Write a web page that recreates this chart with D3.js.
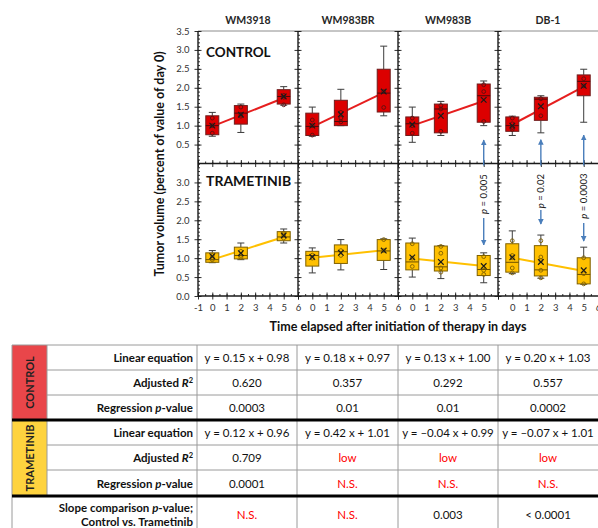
<!DOCTYPE html>
<html>
<head>
<meta charset="utf-8">
<script src="https://cdn.jsdelivr.net/npm/d3@7"></script>
<style>
  html, body { margin: 0; padding: 0; background: #fff; }
  svg { display: block; font-family: Lato, "Open Sans", sans-serif; }
</style>
</head>
<body>
<svg id="chart" width="598" height="528"></svg>
<script>
// ---------- data ----------
const cellLines = ["WM3918", "WM983BR", "WM983B", "DB-1"];
const days = [0, 2, 5];

// box statistics per day: [whisker low, Q1, median, Q3, whisker high, mean]
const controlBoxes = [
  [[0.72, 0.76, 1.00, 1.26, 1.35, 1.00], [0.82, 1.04, 1.33, 1.53, 1.57, 1.29], [1.54, 1.57, 1.77, 1.95, 2.03, 1.77]],
  [[0.72, 0.74, 0.98, 1.33, 1.49, 1.00], [1.00, 1.00, 1.11, 1.67, 1.96, 1.30], [1.26, 1.36, 1.86, 2.49, 3.10, 1.90]],
  [[0.56, 0.74, 1.05, 1.23, 1.49, 1.03], [0.74, 0.81, 1.44, 1.57, 1.64, 1.26], [1.00, 1.09, 1.79, 2.10, 2.18, 1.68]],
  [[0.74, 0.85, 1.00, 1.23, 1.25, 1.00], [0.81, 1.14, 1.70, 1.75, 1.79, 1.51], [1.09, 1.79, 2.17, 2.34, 2.49, 2.05]]
];
const trametinibBoxes = [
  [[0.88, 0.89, 0.96, 1.14, 1.20, 1.05], [0.96, 0.98, 1.07, 1.29, 1.40, 1.13], [1.40, 1.46, 1.56, 1.70, 1.77, 1.60]],
  [[0.61, 0.79, 1.07, 1.18, 1.27, 1.03], [0.69, 0.86, 1.17, 1.35, 1.49, 1.14], [0.70, 0.94, 1.19, 1.49, 1.51, 1.20]],
  [[0.50, 0.69, 0.90, 1.40, 1.53, 1.02], [0.46, 0.66, 0.77, 1.32, 1.33, 0.90], [0.35, 0.54, 0.70, 1.07, 1.14, 0.79]],
  [[0.59, 0.63, 0.89, 1.38, 1.72, 1.02], [0.47, 0.53, 0.69, 1.33, 1.61, 0.90], [0.31, 0.32, 0.57, 1.01, 1.29, 0.68]]
];

// individual tumours per day
const controlPoints = [
  [[1.20, 1.00, 0.80], [1.49, 1.30, 1.25], [1.80, 1.75, 1.55]],
  [[1.15, 1.00, 0.75], [1.35, 1.20, 1.10], [1.90, 1.48]],
  [[1.20, 1.00, 0.80], [1.53, 1.44, 0.85], [2.08, 1.90, 1.11]],
  [[1.20, 1.05, 0.95, 0.90], [1.71, 1.26], [2.24, 2.05]]
];
const trametinibPoints = [
  [[1.07, 0.96, 1.00], [1.18, 1.07, 1.02], [1.61, 1.53, 1.65]],
  [[1.08, 1.00], [1.20, 1.07], [1.49, 1.20]],
  [[1.38, 1.00, 0.78], [1.31, 1.13, 0.74, 0.63], [1.04, 0.68, 0.57]],
  [[1.46, 1.07, 1.01, 0.74, 0.61], [1.46, 1.03, 0.94, 0.68, 0.48], [1.01, 0.59, 0.32]]
];

// fitted regression lines: [slope, intercept]
const controlFits = [[0.15, 0.98], [0.18, 0.97], [0.13, 1.00], [0.20, 1.03]];
const trametinibFits = [[0.12, 0.96], [0.04, 1.01], [-0.04, 0.99], [-0.07, 1.01]];

// day-wise control vs. trametinib comparisons
const comparisonPanels = [2, 3, 3];
const comparisonDays = [5, 2, 5];
const comparisonP = ["0.005", "0.02", "0.0003"];
const comparisonUpTip = [0.62, 0.63, 0.75];      // control-panel units
const comparisonLabelMid = [2.69, 2.77, 2.64];    // trametinib-panel units
const comparisonDown = [[2.06, 1.35], [2.27, 1.90], [1.93, 1.45]];

const yTicksControl = [0.5, 1.0, 1.5, 2.0, 2.5, 3.0, 3.5];
const yTicksTrametinib = [0.0, 0.5, 1.0, 1.5, 2.0, 2.5, 3.0];
const xTicks = [-1, 0, 1, 2, 3, 4, 5, 6];
const xTickLabelSets = [[-1, 0, 1, 2, 3, 4, 5, 6], [0, 1, 2, 3, 4, 5, 6], [0, 1, 2, 3, 4, 5], [0, 1, 2, 3, 4, 5, 6]];

// statistics table
const controlEquations = ["y = 0.15 x + 0.98", "y = 0.18 x + 0.97", "y = 0.13 x + 1.00", "y = 0.20 x + 1.03"];
const controlR2 = ["0.620", "0.357", "0.292", "0.557"];
const controlRegP = ["0.0003", "0.01", "0.01", "0.0002"];
const trametinibEquations = ["y = 0.12 x + 0.96", "y = 0.42 x + 1.01", "y = \u20130.04 x + 0.99", "y = \u20130.07 x + 1.01"];
const trametinibR2 = ["0.709", "low", "low", "low"];
const trametinibRegP = ["0.0001", "N.S.", "N.S.", "N.S."];
const slopeComparisonP = ["N.S.", "N.S.", "0.003", "< 0.0001"];

// ---------- layout ----------
const svg = d3.select("#chart");
const plotLeft = 198, panelW = 100, plotTop = 31, midY = 163.5, plotBottom = 296, plotRight = 598;
const xScales = cellLines.map((c, i) =>
  d3.scaleLinear().domain([-1, 6]).range([plotLeft + i * panelW, plotLeft + (i + 1) * panelW]));
const yControl = d3.scaleLinear().domain([0, 3.5]).range([midY, plotTop]);
const yTram = d3.scaleLinear().domain([0, 3.5]).range([plotBottom, midY]);

const groups = [
  { y: yControl, boxes: controlBoxes, points: controlPoints, fits: controlFits,
    fill: "#dc0000", edge: "#6e1d1d", line: "#e61e1e", ptStroke: "#5a1010", median: "#4a0a0a" },
  { y: yTram, boxes: trametinibBoxes, points: trametinibPoints, fits: trametinibFits,
    fill: "#ffc000", edge: "#7f6000", line: "#ffc000", ptStroke: "#7f6000", median: "#6b4f00" }
];

// top frame edge
svg.append("line").attr("x1", plotLeft).attr("x2", plotRight).attr("y1", plotTop).attr("y2", plotTop)
  .attr("stroke", "#8c8c8c").attr("stroke-width", 1);

// panel titles
svg.append("g").selectAll("text").data(cellLines).join("text")
  .attr("x", (d, i) => xScales[i](2.5)).attr("y", 24)
  .attr("text-anchor", "middle").attr("font-size", 10.5).attr("font-weight", 700).attr("fill", "#262626")
  .text(d => d);

// boxes, fits and points
groups.forEach(grp => {
  cellLines.forEach((cl, ci) => {
    const x = xScales[ci], y = grp.y;
    const g = svg.append("g");
    // regression line
    const [m, b] = grp.fits[ci];
    g.append("line").attr("x1", x(0)).attr("x2", x(5)).attr("y1", y(b)).attr("y2", y(m * 5 + b))
      .attr("stroke", grp.line).attr("stroke-width", 2);
    days.forEach((day, di) => {
      const [lo, q1, med, q3, hi, mean] = grp.boxes[ci][di];
      const cx = x(day), hw = 6.5, cap = 3.5;
      const wk = g.append("g").attr("stroke", "#3c3c3c").attr("stroke-width", 1);
      wk.append("line").attr("x1", cx).attr("x2", cx).attr("y1", y(hi)).attr("y2", y(q3));
      wk.append("line").attr("x1", cx).attr("x2", cx).attr("y1", y(q1)).attr("y2", y(lo));
      wk.append("line").attr("x1", cx - cap).attr("x2", cx + cap).attr("y1", y(hi)).attr("y2", y(hi));
      wk.append("line").attr("x1", cx - cap).attr("x2", cx + cap).attr("y1", y(lo)).attr("y2", y(lo));
      g.append("rect").attr("x", cx - hw).attr("width", hw * 2)
        .attr("y", y(q3)).attr("height", y(q1) - y(q3))
        .attr("fill", grp.fill).attr("stroke", grp.edge).attr("stroke-width", 1);
      g.append("line").attr("x1", cx - hw).attr("x2", cx + hw).attr("y1", y(med)).attr("y2", y(med))
        .attr("stroke", grp.median).attr("stroke-width", 1);
      g.selectAll(null).data(grp.points[ci][di]).join("circle")
        .attr("cx", cx).attr("cy", v => y(v)).attr("r", 1.9)
        .attr("fill", "none").attr("stroke", grp.ptStroke).attr("stroke-width", 0.9);
      const s = 2.8, my = y(mean);
      g.append("path").attr("d", `M${cx - s},${my - s}L${cx + s},${my + s}M${cx - s},${my + s}L${cx + s},${my - s}`)
        .attr("stroke", "#1a1a1a").attr("stroke-width", 1.2).attr("fill", "none");
    });
  });
});

// axes: vertical panel edges with ticks
const minorY = d3.range(0, 3.501, 0.1).map(v => +v.toFixed(2));
cellLines.forEach((cl, ci) => {
  const x0 = xScales[ci](-1);
  [[yControl, yTicksControl], [yTram, yTicksTrametinib]].forEach(([y, majors]) => {
    svg.append("g").attr("transform", `translate(${x0},0)`)
      .call(d3.axisLeft(y).tickValues(majors).tickSize(3.5).tickPadding(5)
        .tickFormat(ci === 0 ? d3.format(".1f") : ""));
    svg.append("g").attr("transform", `translate(${x0},0)`)
      .call(d3.axisRight(y).tickValues(majors).tickSize(3.5).tickFormat(""));
    svg.append("g").attr("transform", `translate(${x0},0)`)
      .call(d3.axisRight(y).tickValues(minorY).tickSize(2).tickFormat(""));
  });
});
svg.selectAll(".domain").remove();
svg.selectAll(".tick line").attr("stroke", "#1a1a1a").attr("stroke-width", 0.9);
svg.selectAll(".tick text").attr("font-size", 9.5).attr("fill", "#333").attr("font-family", "Lato, sans-serif");

cellLines.forEach((cl, ci) => {
  const x0 = xScales[ci](-1);
  svg.append("line").attr("x1", x0).attr("x2", x0).attr("y1", plotTop).attr("y2", plotBottom)
    .attr("stroke", "#1a1a1a").attr("stroke-width", 1.4);
});

// horizontal axes
const minorX = d3.range(-1, 6.01, 0.5);
[midY, plotBottom].forEach((yy, k) => {
  svg.append("line").attr("x1", plotLeft).attr("x2", plotRight).attr("y1", yy).attr("y2", yy)
    .attr("stroke", "#1a1a1a").attr("stroke-width", 1.4);
  cellLines.forEach((cl, ci) => {
    const x = xScales[ci];
    const down = svg.append("g").attr("transform", `translate(0,${yy})`)
      .call(d3.axisBottom(x).tickValues(xTicks).tickSize(3.5).tickPadding(5)
        .tickFormat(v => (k === 1 && xTickLabelSets[ci].includes(v)) ? String(v) : ""));
    const up = svg.append("g").attr("transform", `translate(0,${yy})`)
      .call(d3.axisTop(x).tickValues(xTicks).tickSize(3.5).tickFormat(""));
    const minor = svg.append("g").attr("transform", `translate(0,${yy})`)
      .call(d3.axisTop(x).tickValues(minorX).tickSize(2).tickFormat(""));
    [down, up, minor].forEach(a => {
      a.select(".domain").remove();
      a.selectAll(".tick line").attr("stroke", "#1a1a1a").attr("stroke-width", 0.9);
      a.selectAll(".tick text").attr("font-size", 9.5).attr("fill", "#333").attr("font-family", "Lato, sans-serif");
    });
  });
});

// treatment labels
svg.append("text").attr("x", 206).attr("y", 57).attr("font-size", 13.5).attr("font-weight", 700)
  .attr("fill", "#111").text("CONTROL");
svg.append("text").attr("x", 206).attr("y", 186).attr("font-size", 14).attr("font-weight", 700)
  .attr("fill", "#111").text("TRAMETINIB");

// axis titles
svg.append("text").attr("transform", "translate(164,164) rotate(-90)")
  .attr("text-anchor", "middle").attr("font-size", 12.5).attr("font-weight", 700).attr("fill", "#111")
  .text("Tumor volume (percent of value of day 0)");
svg.append("text").attr("x", 398).attr("y", 331)
  .attr("text-anchor", "middle").attr("font-size", 12.5).attr("font-weight", 700).attr("fill", "#111")
  .text("Time elapsed after initiation of therapy in days");

// comparison arrows with p-values
const defs = svg.append("defs");
defs.append("marker").attr("id", "arrowHead").attr("viewBox", "0 0 10 10")
  .attr("refX", 9).attr("refY", 5).attr("markerWidth", 4).attr("markerHeight", 4)
  .attr("orient", "auto")
  .append("path").attr("d", "M0,0L10,5L0,10Z").attr("fill", "#4a7ebb");

comparisonP.forEach((p, k) => {
  const x = xScales[comparisonPanels[k]](comparisonDays[k]);
  svg.append("line").attr("x1", x).attr("x2", x).attr("y1", yTram(3.45)).attr("y2", yControl(comparisonUpTip[k]))
    .attr("stroke", "#4a7ebb").attr("stroke-width", 1.4).attr("marker-end", "url(#arrowHead)");
  svg.append("line").attr("x1", x).attr("x2", x)
    .attr("y1", yTram(comparisonDown[k][0])).attr("y2", yTram(comparisonDown[k][1]))
    .attr("stroke", "#4a7ebb").attr("stroke-width", 1.4).attr("marker-end", "url(#arrowHead)");
  const t = svg.append("text").attr("transform", `translate(${x + 3.5},${yTram(comparisonLabelMid[k])}) rotate(-90)`)
    .attr("text-anchor", "middle").attr("font-size", 9.5).attr("fill", "#222");
  t.append("tspan").attr("font-style", "italic").text("p");
  t.append("tspan").text(" = " + p);
});

// ---------- statistics table ----------
const tLeft = 12, tColor = 47, tRight = 598;
const colEdges = [197, 297, 398, 498, 598];
const rowEdges = [345, 370, 395, 420, 445, 470, 496, 540];
const tbl = svg.append("g");

tbl.append("rect").attr("x", tLeft).attr("y", rowEdges[0]).attr("width", tColor - tLeft)
  .attr("height", rowEdges[3] - rowEdges[0]).attr("fill", "#e9464a");
tbl.append("rect").attr("x", tLeft).attr("y", rowEdges[3]).attr("width", tColor - tLeft)
  .attr("height", rowEdges[6] - rowEdges[3]).attr("fill", "#fed33f");

const thin = "#9a9a9a";
tbl.append("line").attr("x1", tLeft).attr("x2", tRight).attr("y1", rowEdges[0]).attr("y2", rowEdges[0])
  .attr("stroke", thin).attr("stroke-width", 1);
[1, 2, 4, 5].forEach(r => {
  tbl.append("line").attr("x1", tColor).attr("x2", tRight).attr("y1", rowEdges[r]).attr("y2", rowEdges[r])
    .attr("stroke", thin).attr("stroke-width", 1);
});
tbl.append("line").attr("x1", tLeft).attr("x2", tLeft).attr("y1", rowEdges[0]).attr("y2", 528)
  .attr("stroke", thin).attr("stroke-width", 1);
tbl.append("line").attr("x1", tColor).attr("x2", tColor).attr("y1", rowEdges[0]).attr("y2", rowEdges[6])
  .attr("stroke", thin).attr("stroke-width", 1);
colEdges.slice(0, 4).forEach(cx => {
  tbl.append("line").attr("x1", cx).attr("x2", cx).attr("y1", rowEdges[0]).attr("y2", 528)
    .attr("stroke", thin).attr("stroke-width", 1);
});
[rowEdges[3], rowEdges[6]].forEach(yy => {
  tbl.append("line").attr("x1", tLeft).attr("x2", tRight).attr("y1", yy).attr("y2", yy)
    .attr("stroke", "#000").attr("stroke-width", 3);
});

tbl.append("text").attr("transform", `translate(${(tLeft + tColor) / 2 + 4},${(rowEdges[0] + rowEdges[3]) / 2}) rotate(-90)`)
  .attr("text-anchor", "middle").attr("font-size", 11).attr("font-weight", 700).attr("fill", "#222").text("CONTROL");
tbl.append("text").attr("transform", `translate(${(tLeft + tColor) / 2 + 4},${(rowEdges[3] + rowEdges[6]) / 2}) rotate(-90)`)
  .attr("text-anchor", "middle").attr("font-size", 11).attr("font-weight", 700).attr("fill", "#222").text("TRAMETINIB");

function rowLabel(kind, yy) {
  const t = tbl.append("text").attr("x", 193).attr("y", yy).attr("text-anchor", "end")
    .attr("font-size", 11.5).attr("font-weight", 700).attr("fill", "#111");
  if (kind === 0) t.text("Linear equation");
  if (kind === 1) {
    t.append("tspan").text("Adjusted ");
    t.append("tspan").attr("font-style", "italic").text("R");
    t.append("tspan").attr("font-size", 7.5).attr("dy", -4).text("2");
  }
  if (kind === 2) {
    t.append("tspan").text("Regression ");
    t.append("tspan").attr("font-style", "italic").text("p");
    t.append("tspan").text("-value");
  }
}
const rowValues = [controlEquations, controlR2, controlRegP, trametinibEquations, trametinibR2, trametinibRegP];
rowValues.forEach((vals, r) => {
  const yy = (rowEdges[r] + rowEdges[r + 1]) / 2 + 4.5;
  rowLabel(r % 3, yy);
  tbl.append("g").selectAll("text").data(vals).join("text")
    .attr("x", (d, i) => (colEdges[i] + colEdges[i + 1]) / 2).attr("y", yy)
    .attr("text-anchor", "middle").attr("font-size", 11.5)
    .attr("fill", d => (d === "low" || d === "N.S.") ? "#ff0000" : "#111")
    .text(d => d);
});

const s1 = tbl.append("text").attr("x", 193).attr("y", 512).attr("text-anchor", "end")
  .attr("font-size", 11.5).attr("font-weight", 700).attr("fill", "#111");
s1.append("tspan").text("Slope comparison ");
s1.append("tspan").attr("font-style", "italic").text("p");
s1.append("tspan").text("-value;");
tbl.append("text").attr("x", 193).attr("y", 526).attr("text-anchor", "end")
  .attr("font-size", 11.5).attr("font-weight", 700).attr("fill", "#111").text("Control vs. Trametinib");
tbl.append("g").selectAll("text").data(slopeComparisonP).join("text")
  .attr("x", (d, i) => (colEdges[i] + colEdges[i + 1]) / 2).attr("y", 519)
  .attr("text-anchor", "middle").attr("font-size", 11.5)
  .attr("fill", d => d === "N.S." ? "#ff0000" : "#111")
  .text(d => d);
</script>
</body>
</html>
